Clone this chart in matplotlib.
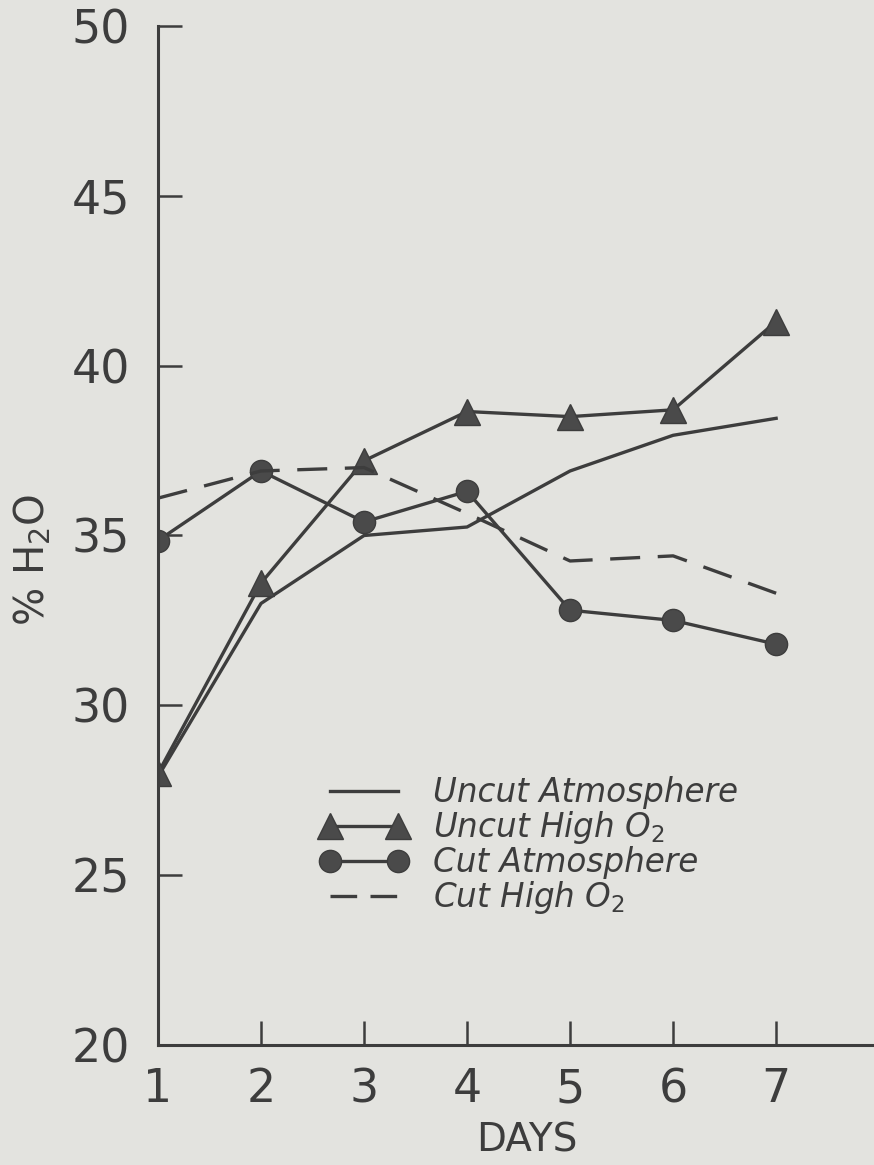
import matplotlib
matplotlib.use("Agg")
import matplotlib.pyplot as plt

days = [1, 2, 3, 4, 5, 6, 7]
uncut_atm = [27.9, 33.0, 35.0, 35.25, 36.9, 37.95, 38.45]
uncut_high = [28.0, 33.6, 37.2, 38.65, 38.5, 38.7, 41.3]
cut_atm = [34.85, 36.9, 35.4, 36.3, 32.8, 32.5, 31.8]
cut_high = [36.1, 36.9, 37.0, 35.65, 34.25, 34.4, 33.3]
series_labels = ["Uncut Atmosphere", "Uncut High O$_2$", "Cut Atmosphere", "Cut High O$_2$"]
yticks = [20, 25, 30, 35, 40, 45, 50]
xticks = [1, 2, 3, 4, 5, 6, 7]
xticklabels = ["1", "2", "3", "4", "5", "6", "7"]

bg = "#e3e3df"
ink = "#3d3d3d"
plt.rcParams['font.family'] = ['DejaVu Sans']
plt.rcParams['mathtext.fontset'] = 'dejavusans'

fig = plt.figure(figsize=(8.74, 11.65), dpi=100, facecolor=bg)
ax = fig.add_axes([158/874, 120/1165, 1 - 158/874, (1045-26)/1165])
ax.set_facecolor(bg)

lw = 2.4
ax.plot(days, uncut_atm, color=ink, lw=lw, label=series_labels[0])
ax.plot(days, uncut_high, color=ink, lw=lw, marker='^', ms=19, mfc='#4a4a4a', mec=ink, label=series_labels[1])
ax.plot(days, cut_atm, color=ink, lw=lw, marker='o', ms=16, mfc='#4a4a4a', mec=ink, label=series_labels[2])
ax.plot(days, cut_high, color=ink, lw=lw, dashes=(9.0, 5.28), label=series_labels[3])

ax.set_xlim(1, 7.95)
ax.set_ylim(20, 50)
for s in ['top', 'right']:
    ax.spines[s].set_visible(False)
for s in ['left', 'bottom']:
    ax.spines[s].set_color(ink)
    ax.spines[s].set_linewidth(2.2)

ax.set_yticks(yticks)
ax.set_yticklabels([str(v) for v in yticks])
ax.set_xticks(xticks)
ax.set_xticklabels(xticklabels)
ax.tick_params(axis='both', direction='in', length=17, width=1.8, color=ink,
               labelcolor=ink, labelsize=33)
ax.tick_params(axis='y', pad=20)
ax.tick_params(axis='x', pad=16)
for t in ax.yaxis.get_major_ticks():
    if t.get_loc() == 20:
        t.tick1line.set_visible(False)
for t in ax.xaxis.get_major_ticks():
    if t.get_loc() == 1:
        t.tick1line.set_visible(False)

fig.text(527/874, 1 - 1141/1165, "DAYS", ha='center', va='center', fontsize=28, color=ink)
fig.text(33/874, 1 - 560/1165, "% H$_2$O", ha='center', va='center', rotation=90, fontsize=29, color=ink)

leg = ax.legend(loc='upper left', bbox_to_anchor=(320/874, 1 - 776/1165), bbox_transform=fig.transFigure,
                frameon=False, numpoints=2, handlelength=2.7, handletextpad=0.75, labelspacing=0.0,
                borderpad=0, borderaxespad=0, prop={'style': 'italic', 'size': 23.5})
for t in leg.get_texts():
    t.set_color(ink)
leg.get_lines()[3].set_dashes((8.0, 4.0))

fig.savefig("out.png", dpi=100, facecolor=bg)
